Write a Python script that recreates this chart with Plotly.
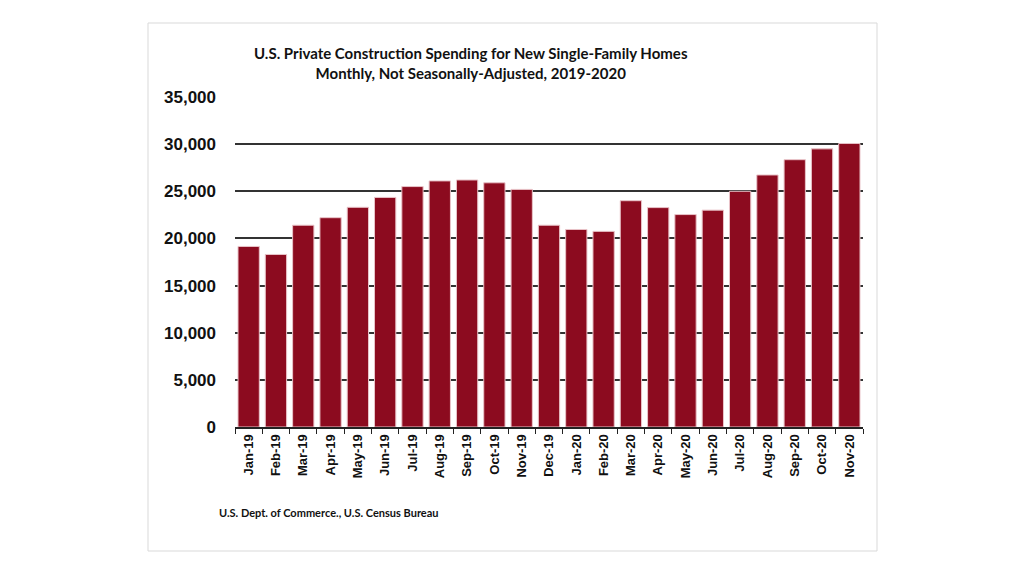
import plotly.graph_objects as go

months = ["Jan-19", "Feb-19", "Mar-19", "Apr-19", "May-19", "Jun-19", "Jul-19", "Aug-19",
          "Sep-19", "Oct-19", "Nov-19", "Dec-19", "Jan-20", "Feb-20", "Mar-20", "Apr-20",
          "May-20", "Jun-20", "Jul-20", "Aug-20", "Sep-20", "Oct-20", "Nov-20"]
spending = [19150, 18300, 21400, 22200, 23300, 24350, 25500, 26100,
            26200, 25900, 25200, 21400, 20950, 20750, 24000, 23270,
            22530, 23000, 25000, 26730, 28350, 29500, 30070]
y_ticks = [0, 5000, 10000, 15000, 20000, 25000, 30000, 35000]

W, H = 1024, 576
# the page adds an 8px offset, so work in screen pixels minus 8
OFF = 8
L, R, T, B = 235 - OFF, 1024 - 863 + OFF, 97 - OFF, 576 - 427 + OFF
pw, ph = W - L - R, H - T - B


def px(x):
    return (x - OFF - L) / pw


def py(y):
    return (H - B - (y - OFF)) / ph


fig = go.Figure(go.Bar(
    x=months, y=spending,
    marker=dict(color="#8c0b1f", line=dict(color="#e9c4c9", width=1)),
))

fig.update_layout(
    width=W, height=H,
    margin=dict(l=L, r=R, t=T, b=B),
    plot_bgcolor="white", paper_bgcolor="white",
    bargap=0.22,
    showlegend=False,
    font=dict(family="Arial", color="black"),
)

fig.update_yaxes(
    range=[0, 35000], tickvals=y_ticks, tickformat=",",
    showgrid=True, gridcolor="#333333", gridwidth=1.5,
    zeroline=False, showline=False,
    tickfont=dict(family="Liberation Sans", size=17, color="#111111", weight="bold"),
    ticklabelstandoff=18,
)
fig.update_xaxes(
    tickangle=-90, showline=True, linecolor="#222222", linewidth=2,
    ticks="outside", tickson="boundaries", ticklen=5, tickcolor="#222222",
    tickfont=dict(family="Liberation Sans", size=13, color="#111111", weight="bold"),
)

# title and source
fig.add_annotation(
    text="<b>U.S. Private Construction Spending for New Single-Family Homes<br>"
         "Monthly, Not Seasonally-Adjusted, 2019-2020</b>",
    xref="paper", yref="paper", x=px(471), y=py(63),
    showarrow=False, xanchor="center", yanchor="middle",
    font=dict(family="Lato", size=15, color="#111111"),
)
fig.add_annotation(
    text="<b>U.S. Dept. of Commerce., U.S. Census Bureau</b>",
    xref="paper", yref="paper", x=px(217), y=py(512),
    showarrow=False, xanchor="left", yanchor="middle",
    font=dict(family="Lato", size=11, color="#111111"),
)

# light frame round the chart
fig.add_shape(
    type="rect", xref="paper", yref="paper",
    x0=px(148), x1=px(877), y0=py(551), y1=py(23),
    line=dict(color="#d9d9d9", width=1), layer="below",
)

fig.write_html("out.html")
